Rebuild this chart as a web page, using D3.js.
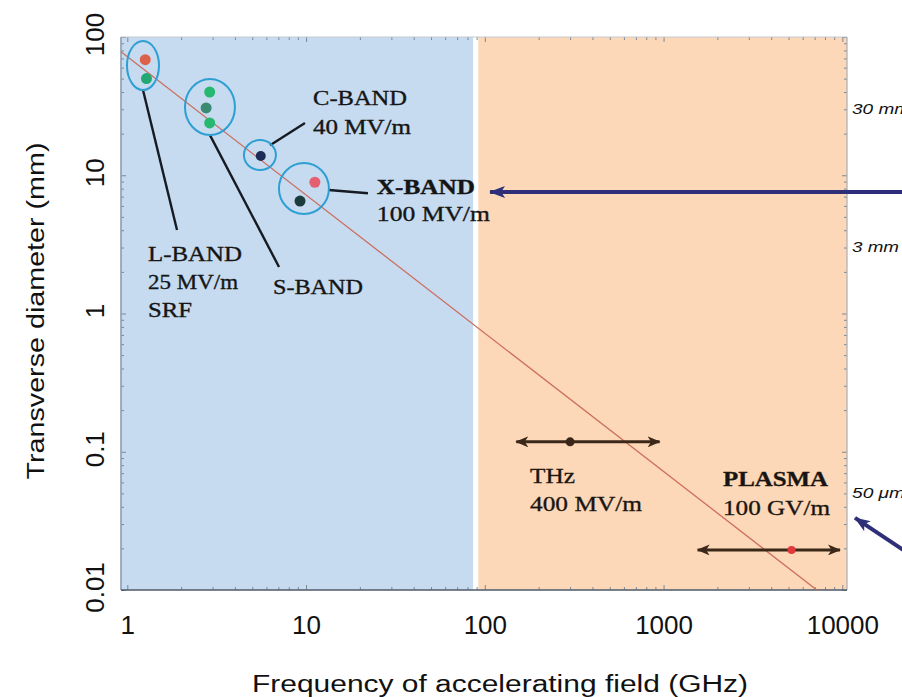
<!DOCTYPE html>
<html>
<head>
<meta charset="utf-8">
<script src="https://d3js.org/d3.v7.min.js"></script>
<style>
  body { margin: 0; background: #fff; }
  svg { display: block; }
  .axis text { font-family: "Liberation Sans", Arial, sans-serif; fill: #111; }
  .axis line { stroke: #7d8894; }
  .lbl { font-family: "Liberation Serif", "Times New Roman", serif; fill: #151515; }
</style>
</head>
<body>
<svg width="902" height="697"></svg>
<script>
// values: frequency in GHz, diameter in mm
var decadeX = [1, 10, 100, 1000, 10000];
var decadeY = [0.01, 0.1, 1, 10, 100];

// shaded regions (blue = RF structures, orange = THz / plasma)
var regionFrom = [0.922, 92];
var regionTo = [86, 10620];
var regionColor = ["#c6dbf0", "#fcd8b8"];

// measured structures
var dotFreq = [1.26, 1.28, 2.89, 2.76, 2.89, 5.58, 11.2, 9.25, 300, 5200];
var dotDiam = [68.5, 50, 40, 30.7, 23.9, 13.8, 8.9, 6.5, 0.118, 0.0195];
var dotColor = ["#dd6048", "#22a873", "#27b86f", "#3b8a72", "#27b86f",
                "#1d2b55", "#e46070", "#1c3b3b", "#3a2618", "#e23a3a"];

// scaling line (diameter ~ 1/frequency), its two end points
var lineFreq = [0.922, 7200];
var lineDiam = [78.1, 0.01];

// band ellipses (centres)
var bandFreq = [1.224, 2.90, 5.52, 9.73];
var bandDiam = [62.2, 31.2, 14.0, 8.02];

// leader lines from the ellipses to the labels
var leaderFreq0 = [1.224, 2.90, 6.29, 13.4];
var leaderDiam0 = [41.4, 19.5, 16.5, 7.82];
var leaderFreq1 = [1.897, 7.06, 9.86, 22.2];
var leaderDiam1 = [4.02, 2.17, 23.9, 7.41];

// THz and plasma ranges
var rangeFrom = [150, 1550];
var rangeTo = [950, 9700];
var rangeDiam = [0.118, 0.0195];

// text labels (first line anchor)
var labelLines = [["L-BAND", "25 MV/m", "SRF"], ["S-BAND"], ["C-BAND", "40 MV/m"],
                  ["X-BAND", "100 MV/m"], ["THz", "400 MV/m"], ["PLASMA", "100 GV/m"]];
var labelFreq = [1.306, 6.53, 10.94, 24.9, 179, 2150];
var labelDiam = [2.40, 1.384, 32.2, 7.32, 0.0594, 0.0565];

// wavelength marks on the right
var wlText = ["30 mm", "3 mm", "50 \u03bcm"];
var wlDiam = [30, 3, 0.05];

// navy pointer arrows (tail -> tip)
var ptrFreq0 = [25000, 25500];
var ptrDiam0 = [7.57, 0.0171];
var ptrFreq1 = [107, 11780];
var ptrDiam1 = [7.57, 0.0332];

var svg = d3.select("svg");
var x = d3.scaleLog().domain([0.922, 10620]).range([121, 847]);
var y = d3.scaleLog().domain([0.01, 100]).range([590, 37]);

// background regions
svg.append("g").selectAll("rect").data(regionFrom)
  .enter().append("rect")
  .attr("x", (d, i) => x(d))
  .attr("width", (d, i) => x(regionTo[i]) - x(d))
  .attr("y", y(100))
  .attr("height", y(0.01) - y(100))
  .attr("fill", (d, i) => regionColor[i]);

// axes with inward minor ticks on all four sides
function isDecade(list, d) { return list.some(v => Math.abs(v - d) / v < 1e-6); }

var gx = svg.append("g").attr("class", "axis").attr("transform", "translate(0," + y(0.01) + ")")
  .call(d3.axisBottom(x).tickValues(x.ticks()).tickSize(-4).tickPadding(25.5)
        .tickFormat(d => isDecade(decadeX, d) ? d3.format("d")(d) : ""));
gx.selectAll("line").attr("y2", d => isDecade(decadeX, d) ? -5 : -3);
gx.selectAll("text").attr("font-size", 26);

var gxt = svg.append("g").attr("class", "axis").attr("transform", "translate(0," + y(100) + ")")
  .call(d3.axisTop(x).tickValues(x.ticks()).tickSize(-4).tickFormat(""));
gxt.selectAll("line").attr("y2", d => isDecade(decadeX, d) ? 5 : 3);

var gy = svg.append("g").attr("class", "axis").attr("transform", "translate(" + x.range()[0] + ",0)")
  .call(d3.axisLeft(y).tickValues(y.ticks()).tickSize(-4)
        .tickFormat(d => isDecade(decadeY, d) ? String(d) : ""));
gy.selectAll("line").attr("x2", d => isDecade(decadeY, d) ? 5 : 3);
gy.selectAll("text")
  .attr("font-size", 26)
  .attr("x", 0).attr("dy", 0)
  .attr("text-anchor", "middle")
  .attr("transform", "translate(-17,-3) rotate(-90)");

var gyr = svg.append("g").attr("class", "axis").attr("transform", "translate(" + x.range()[1] + ",0)")
  .call(d3.axisRight(y).tickValues(y.ticks()).tickSize(-4).tickFormat(""));
gyr.selectAll("line").attr("x2", d => isDecade(decadeY, d) ? -5 : -3);

svg.selectAll(".axis .domain").remove();

// frame
var fr = svg.append("g").attr("fill", "none");
fr.append("line").attr("x1", x.range()[0]).attr("x2", x.range()[1]).attr("y1", y(100)).attr("y2", y(100))
  .attr("stroke", "#c3cad2").attr("stroke-width", 1.2);
fr.append("line").attr("x1", x.range()[1]).attr("x2", x.range()[1]).attr("y1", y(100)).attr("y2", y(0.01))
  .attr("stroke", "#a8aeb6").attr("stroke-width", 1.2);
fr.append("line").attr("x1", x.range()[0]).attr("x2", x.range()[0]).attr("y1", y(100)).attr("y2", y(0.01))
  .attr("stroke", "#8e9cad").attr("stroke-width", 1.6);
fr.append("line").attr("x1", x.range()[0]).attr("x2", x.range()[1]).attr("y1", y(0.01)).attr("y2", y(0.01))
  .attr("stroke", "#4f5b68").attr("stroke-width", 1.6);

// axis titles (the source text is drawn wide)
svg.append("text")
  .attr("x", 500).attr("y", 692)
  .attr("text-anchor", "middle")
  .attr("font-family", "Liberation Sans, Arial, sans-serif")
  .attr("font-size", 23).attr("fill", "#111")
  .attr("textLength", 496).attr("lengthAdjust", "spacingAndGlyphs")
  .text("Frequency of accelerating field (GHz)");

svg.append("text")
  .attr("transform", "translate(44," + 311 + ") rotate(-90)")
  .attr("text-anchor", "middle")
  .attr("font-family", "Liberation Sans, Arial, sans-serif")
  .attr("font-size", 23).attr("fill", "#111")
  .attr("textLength", 337).attr("lengthAdjust", "spacingAndGlyphs")
  .text("Transverse diameter (mm)");

// scaling line
svg.append("line")
  .attr("x1", x(lineFreq[0])).attr("y1", y(lineDiam[0]))
  .attr("x2", x(lineFreq[1])).attr("y2", y(lineDiam[1]))
  .attr("stroke", "#cc6f5e").attr("stroke-width", 1.3);

// markers
var defs = svg.append("defs");
defs.append("marker").attr("id", "brownHead")
  .attr("viewBox", "0 0 13 11").attr("refX", 12).attr("refY", 5.5)
  .attr("markerWidth", 13).attr("markerHeight", 11)
  .attr("markerUnits", "userSpaceOnUse")
  .attr("orient", "auto-start-reverse")
  .append("path").attr("d", "M0,0 L13,5.5 L0,11 L3.5,5.5 Z").attr("fill", "#3b2819");
defs.append("marker").attr("id", "navyHead")
  .attr("viewBox", "0 0 16 12").attr("refX", 15).attr("refY", 6)
  .attr("markerWidth", 16).attr("markerHeight", 12)
  .attr("markerUnits", "userSpaceOnUse")
  .attr("orient", "auto")
  .append("path").attr("d", "M0,0 L16,6 L0,12 L4,6 Z").attr("fill", "#2e2f78");

// THz / plasma range arrows
svg.append("g").selectAll("line").data(rangeFrom).enter().append("line")
  .attr("x1", d => x(d)).attr("x2", (d, i) => x(rangeTo[i]))
  .attr("y1", (d, i) => y(rangeDiam[i])).attr("y2", (d, i) => y(rangeDiam[i]))
  .attr("stroke", "#3b2819").attr("stroke-width", 3)
  .attr("marker-start", "url(#brownHead)").attr("marker-end", "url(#brownHead)");

// leader lines
svg.append("g").selectAll("line").data(leaderFreq0).enter().append("line")
  .attr("x1", d => x(d)).attr("y1", (d, i) => y(leaderDiam0[i]))
  .attr("x2", (d, i) => x(leaderFreq1[i])).attr("y2", (d, i) => y(leaderDiam1[i]))
  .attr("stroke", "#161a22").attr("stroke-width", 2.4);

// band ellipses
var bandRx = [16, 25, 16, 25], bandRy = [24.5, 28, 15, 25.5];
svg.append("g").selectAll("ellipse").data(bandFreq).enter().append("ellipse")
  .attr("cx", d => x(d)).attr("cy", (d, i) => y(bandDiam[i]))
  .attr("rx", (d, i) => bandRx[i]).attr("ry", (d, i) => bandRy[i])
  .attr("fill", "none").attr("stroke", "#2e9fd2").attr("stroke-width", 2);

// dots
var dotR = [5.5, 5.5, 5.5, 5.5, 5.5, 5, 5.5, 5.5, 4.5, 4];
svg.append("g").selectAll("circle").data(dotFreq).enter().append("circle")
  .attr("cx", d => x(d)).attr("cy", (d, i) => y(dotDiam[i]))
  .attr("r", (d, i) => dotR[i])
  .attr("fill", (d, i) => dotColor[i]);

// navy pointers
svg.append("g").selectAll("line").data(ptrFreq0).enter().append("line")
  .attr("x1", d => x(d)).attr("y1", (d, i) => y(ptrDiam0[i]))
  .attr("x2", (d, i) => x(ptrFreq1[i])).attr("y2", (d, i) => y(ptrDiam1[i]))
  .attr("stroke", "#2e2f78").attr("stroke-width", 4)
  .attr("marker-end", "url(#navyHead)");

// band labels
var labelWidth = [[94, 90, 44], [90], [94, 98], [98, 113], [45, 112], [105, 107]];
var labelBold = [false, false, false, true, false, true];
var labelGap = [28, 28, 29, 27, 28, 29];
var labelFill = ["#151515", "#151515", "#151515", "#151515", "#2a1a0e", "#2a1a0e"];
labelLines.forEach(function(lines, i) {
  lines.forEach(function(t, j) {
    svg.append("text").attr("class", "lbl")
      .attr("x", x(labelFreq[i]))
      .attr("y", y(labelDiam[i]) + j * labelGap[i])
      .attr("font-size", 21)
      .attr("font-weight", labelBold[i] && j === 0 ? "bold" : "normal")
      .attr("fill", labelFill[i])
      .attr("stroke", labelFill[i]).attr("stroke-width", 0.35)
      .attr("textLength", labelWidth[i][j]).attr("lengthAdjust", "spacingAndGlyphs")
      .text(t);
  });
});

// wavelength marks outside the right edge
var wlWidth = [58, 47, 53];
svg.append("g").selectAll("text").data(wlText).enter().append("text")
  .attr("x", x.range()[1] + 5)
  .attr("y", (d, i) => y(wlDiam[i]))
  .attr("dy", "0.35em")
  .attr("font-family", "Liberation Sans, Arial, sans-serif")
  .attr("font-style", "italic")
  .attr("font-size", 14)
  .attr("fill", "#111")
  .attr("textLength", (d, i) => wlWidth[i]).attr("lengthAdjust", "spacingAndGlyphs")
  .text(d => d);
</script>
</body>
</html>
